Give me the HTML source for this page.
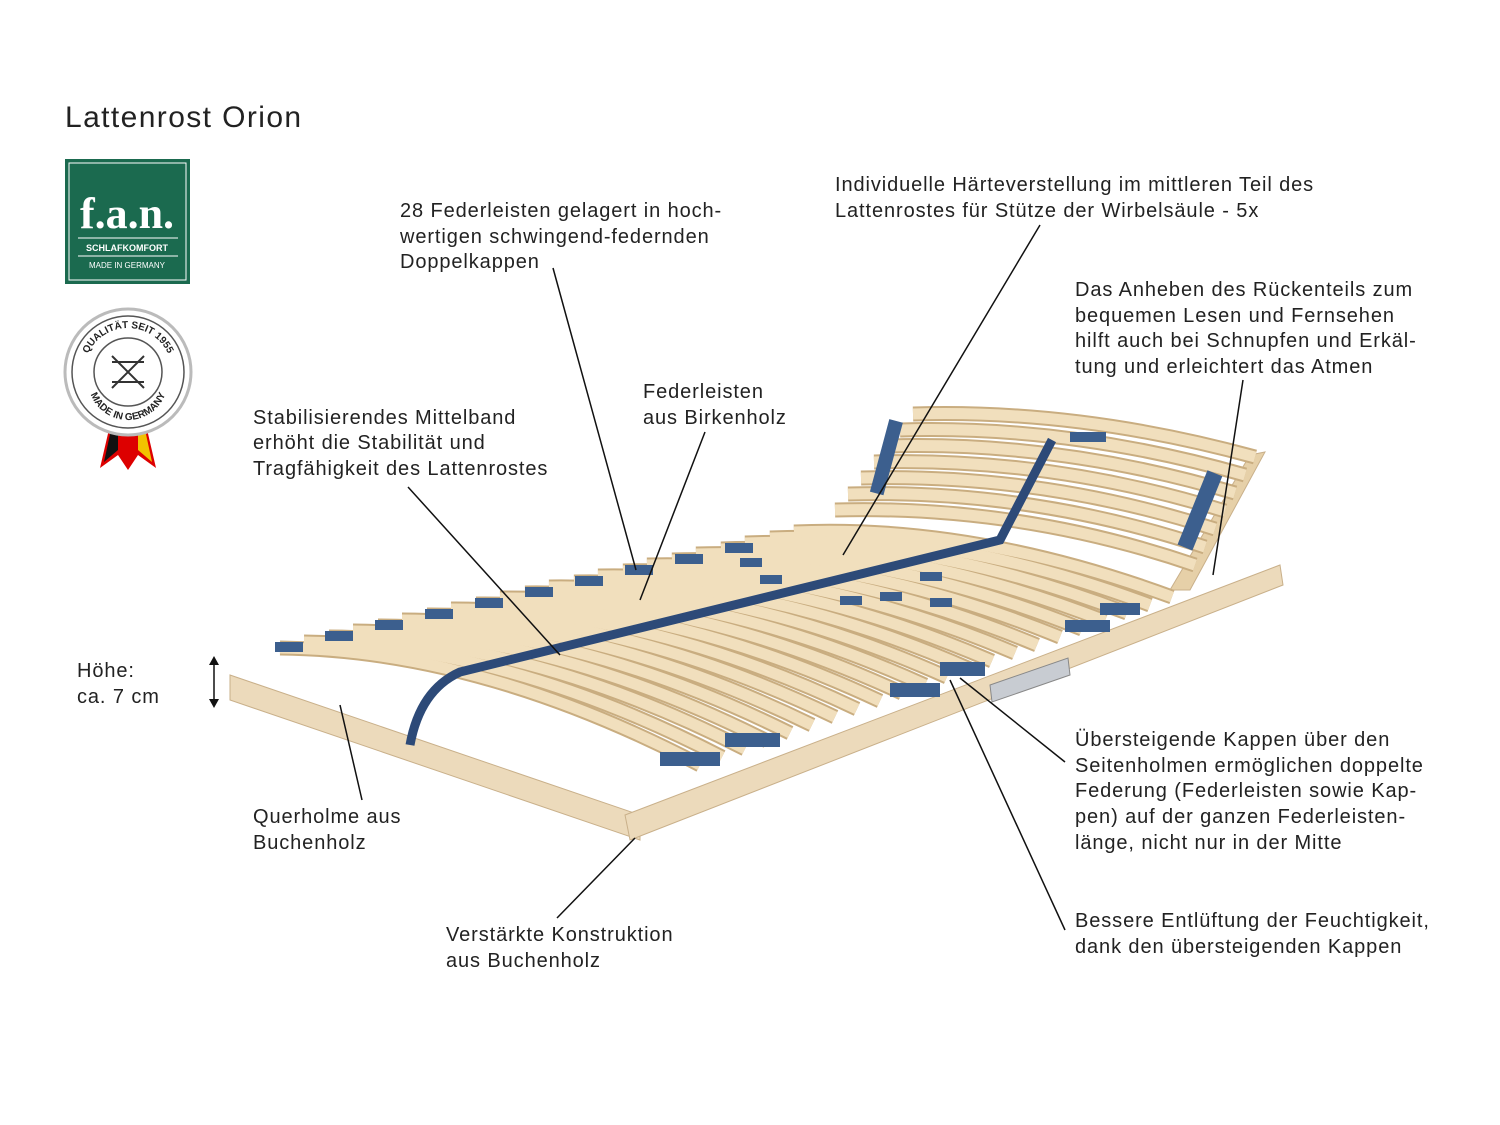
<!DOCTYPE html>
<html><head><meta charset="utf-8"><style>
html,body{margin:0;padding:0;background:#fff;}
svg{display:block;}
text{font-family:"Liberation Sans",sans-serif;fill:#222;}
.lbl text{letter-spacing:0.9px;}
</style></head><body>
<svg width="1500" height="1125" viewBox="0 0 1500 1125" xmlns="http://www.w3.org/2000/svg">
<defs>
<g id="sl">
<path d="M280,648 Q480,650 700,765"/><path d="M304,642 Q503,644 722,757"/><path d="M329,637 Q527,638 745,749"/><path d="M353,631 Q550,632 767,741"/><path d="M378,626 Q574,626 790,733"/><path d="M402,620 Q597,620 812,725"/><path d="M427,615 Q621,614 835,717"/><path d="M451,609 Q644,608 857,709"/><path d="M476,604 Q668,602 880,701"/><path d="M500,598 Q691,596 902,693"/><path d="M525,593 Q715,590 925,685"/><path d="M549,587 Q738,584 947,677"/><path d="M574,582 Q762,578 970,669"/><path d="M598,576 Q785,572 992,661"/><path d="M623,571 Q809,566 1015,653"/><path d="M647,565 Q832,560 1037,645"/><path d="M672,560 Q856,554 1060,637"/><path d="M696,554 Q879,548 1082,629"/><path d="M721,549 Q903,542 1105,621"/><path d="M745,543 Q926,536 1127,613"/><path d="M770,538 Q950,530 1150,605"/><path d="M794,532 Q973,524 1172,597"/>
<path d="M835,510 Q1020,505 1195,565"/><path d="M848,494 Q1030,489 1205,547"/><path d="M861,478 Q1040,473 1215,529"/><path d="M874,462 Q1050,457 1225,511"/><path d="M887,446 Q1060,441 1235,493"/><path d="M900,430 Q1070,425 1245,475"/><path d="M913,414 Q1080,409 1255,457"/>
</g>
</defs>
<text x="65" y="127" font-size="30" letter-spacing="1.4">Lattenrost Orion</text>
<rect x="65" y="159" width="125" height="125" fill="#1b6a4f"/>
<rect x="69" y="163" width="117" height="117" fill="none" stroke="#fff" stroke-width="1"/>
<text x="127" y="228" font-size="44" font-weight="bold" text-anchor="middle" style="fill:#fff;font-family:'Liberation Serif',serif">f.a.n.</text>
<line x1="78" y1="238" x2="178" y2="238" stroke="#fff" stroke-width="1"/>
<text x="127" y="251" font-size="9" font-weight="bold" text-anchor="middle" style="fill:#fff">SCHLAFKOMFORT</text>
<line x1="78" y1="256" x2="178" y2="256" stroke="#fff" stroke-width="1"/>
<text x="127" y="268" font-size="8" text-anchor="middle" style="fill:#fff">MADE IN GERMANY</text>
<polygon points="110,425 100,468 118,455 128,470 138,455 156,468 146,425" fill="#d00"/>
<polygon points="112,425 104,462 118,450 118,425" fill="#111"/>
<polygon points="138,425 138,450 152,462 144,425" fill="#f2c200"/>
<circle cx="128" cy="372" r="63" fill="#fff" stroke="#bbb" stroke-width="3"/>
<circle cx="128" cy="372" r="56" fill="#fff" stroke="#555" stroke-width="1.5"/>
<circle cx="128" cy="372" r="34" fill="#fff" stroke="#555" stroke-width="1.5"/>
<path id="arcT" d="M84,372 A44,44 0 0 1 172,372" fill="none"/>
<path id="arcB" d="M88,380 A40,40 0 0 0 168,380" fill="none"/>
<text font-size="10" font-weight="bold"><textPath href="#arcT" startOffset="50%" text-anchor="middle">QUALITÄT SEIT 1955</textPath></text>
<text font-size="10" font-weight="bold"><textPath href="#arcB" startOffset="50%" text-anchor="middle">MADE IN GERMANY</textPath></text>
<path d="M112,356 L144,388 M144,356 L112,388 M112,362 H144 M112,382 H144" stroke="#333" stroke-width="2" fill="none"/>

<g font-size="20" class="lbl">
<text x="400" y="217">28 Federleisten gelagert in hoch-</text>
<text x="400" y="243">wertigen schwingend-federnden</text>
<text x="400" y="268">Doppelkappen</text>
<text x="835" y="191">Individuelle Härteverstellung im mittleren Teil des</text>
<text x="835" y="217">Lattenrostes für Stütze der Wirbelsäule - 5x</text>
<text x="1075" y="296">Das Anheben des Rückenteils zum</text>
<text x="1075" y="322">bequemen Lesen und Fernsehen</text>
<text x="1075" y="347">hilft auch bei Schnupfen und Erkäl-</text>
<text x="1075" y="373">tung und erleichtert das Atmen</text>
<text x="643" y="398">Federleisten</text>
<text x="643" y="424">aus Birkenholz</text>
<text x="253" y="424">Stabilisierendes Mittelband</text>
<text x="253" y="449">erhöht die Stabilität und</text>
<text x="253" y="475">Tragfähigkeit des Lattenrostes</text>
<text x="77" y="677">Höhe:</text>
<text x="77" y="703">ca. 7 cm</text>
<text x="253" y="823">Querholme aus</text>
<text x="253" y="849">Buchenholz</text>
<text x="446" y="941">Verstärkte Konstruktion</text>
<text x="446" y="967">aus Buchenholz</text>
<text x="1075" y="746">Übersteigende Kappen über den</text>
<text x="1075" y="772">Seitenholmen ermöglichen doppelte</text>
<text x="1075" y="797">Federung (Federleisten sowie Kap-</text>
<text x="1075" y="823">pen) auf der ganzen Federleisten-</text>
<text x="1075" y="849">länge, nicht nur in der Mitte</text>
<text x="1075" y="927">Bessere Entlüftung der Feuchtigkeit,</text>
<text x="1075" y="953">dank den übersteigenden Kappen</text>
</g>

<!-- frame -->
<polygon points="230,675 640,815 640,840 230,700" fill="#ecdabb" stroke="#c9b08a"/>
<polygon points="625,815 1280,565 1283,585 630,840" fill="#ecdabb" stroke="#c9b08a"/>
<polygon points="1170,590 1250,455 1265,452 1190,590" fill="#e6d0a8" stroke="#c9b08a"/>
<polygon points="990,685 1068,658 1070,675 992,702" fill="#c8ccd2" stroke="#888"/>
<use href="#sl" stroke="#c9ad80" stroke-width="15" fill="none"/>
<use href="#sl" stroke="#f1dfbd" stroke-width="11" fill="none"/>
<g fill="#3c5f8e">
<rect x="275" y="642" width="28" height="10"/><rect x="325" y="631" width="28" height="10"/><rect x="375" y="620" width="28" height="10"/><rect x="425" y="609" width="28" height="10"/><rect x="475" y="598" width="28" height="10"/><rect x="525" y="587" width="28" height="10"/><rect x="575" y="576" width="28" height="10"/><rect x="625" y="565" width="28" height="10"/><rect x="675" y="554" width="28" height="10"/><rect x="725" y="543" width="28" height="10"/>
<rect x="660" y="752" width="60" height="14"/><rect x="725" y="733" width="55" height="14"/><rect x="890" y="683" width="50" height="14"/><rect x="940" y="662" width="45" height="14"/><rect x="1065" y="620" width="45" height="12"/><rect x="1100" y="603" width="40" height="12"/>
<rect x="880" y="420" width="14" height="75" transform="rotate(15 888 455)"/><rect x="1192" y="470" width="16" height="80" transform="rotate(22 1199 510)"/>
<rect x="1070" y="432" width="36" height="10"/>
<rect x="740" y="558" width="22" height="9"/><rect x="760" y="575" width="22" height="9"/><rect x="840" y="596" width="22" height="9"/><rect x="880" y="592" width="22" height="9"/><rect x="920" y="572" width="22" height="9"/><rect x="930" y="598" width="22" height="9"/>
</g>
<path d="M410,745 Q420,690 460,672 L1000,540 L1052,440" stroke="#2d4a78" stroke-width="9" fill="none"/>
<g stroke="#111" stroke-width="1.5" fill="none">
<line x1="553" y1="268" x2="636" y2="570"/>
<line x1="1040" y1="225" x2="843" y2="555"/>
<line x1="1243" y1="380" x2="1213" y2="575"/>
<line x1="705" y1="432" x2="640" y2="600"/>
<line x1="408" y1="487" x2="560" y2="655"/>
<line x1="340" y1="705" x2="362" y2="800"/>
<line x1="557" y1="918" x2="635" y2="838"/>
<line x1="1065" y1="762" x2="960" y2="678"/>
<line x1="1065" y1="930" x2="950" y2="680"/>
<line x1="214" y1="662" x2="214" y2="702"/>
</g>
<polygon points="214,656 209,665 219,665" fill="#111"/>
<polygon points="214,708 209,699 219,699" fill="#111"/>
</svg>
</body></html>
